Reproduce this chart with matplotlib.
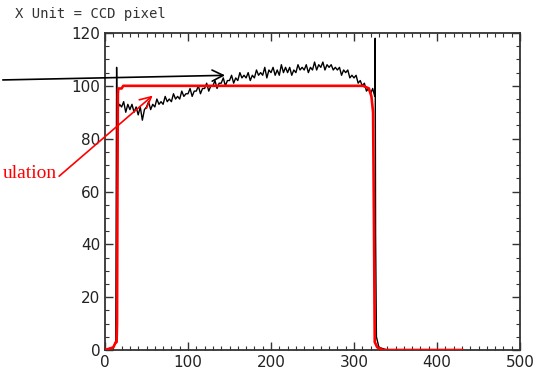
import matplotlib
matplotlib.use("Agg")
import matplotlib.pyplot as plt
import numpy as np
from matplotlib.ticker import MultipleLocator

# Measured (black) profile: leading edge, dense plateau samples, trailing edge
lead_x = [0, 10, 13, 14, 14.5, 15]
lead_y = [0, 1, 3, 107, 85, 91]
plateau_start, plateau_step = 17.5, 2.5
plateau_y = [93,
             92, 94, 90, 93,  91, 93, 90, 92,  89, 92, 87, 91,  92, 94, 91, 93,
             92, 95, 93, 94,  93, 96, 94, 95,  94, 97, 95, 96,  95, 98, 96, 97,
             97, 99, 96, 98,  98, 100, 97, 99,  99, 101, 98, 100,  100, 102, 99, 101,
             101, 103, 100, 102,  102, 104, 101, 103,  102, 105, 103, 104,  103, 105, 102, 104,
             103, 106, 104, 105,  104, 107, 103, 106,  105, 107, 104, 106,  104, 108, 105, 107,
             105, 107, 104, 106,  105, 108, 106, 107,  106, 108, 105, 107,  106, 109, 106, 108,
             107, 109, 106, 108,  107, 108, 106, 107,  106, 107, 104, 106,  105, 106, 103, 104,
             103, 104, 101, 102,  100, 101, 98, 99,  97, 99]
trail_x = [325, 325.5, 326, 327, 330, 340, 430]
trail_y = [96, 118, 44, 5, 1, 0, 0]

# Simulation (red) profile
sim_x = [0, 5, 10, 13, 14, 14.5, 15, 15.5, 16, 20, 22, 100, 200, 300, 311, 318, 321, 323, 324, 325, 328, 335, 430]
sim_y = [0, 0.5, 1, 3, 3, 10, 60, 97, 99, 99, 100, 100, 100, 100, 100, 99, 96, 90, 50, 3, 1, 0, 0]

plateau_x = plateau_start + plateau_step * np.arange(len(plateau_y))
meas_x = np.concatenate([lead_x, plateau_x, trail_x])
meas_y = np.concatenate([lead_y, plateau_y, trail_y])

W, H = 537, 376
fig = plt.figure(figsize=(W / 100, H / 100), dpi=100)
ax = fig.add_axes([105 / W, 1 - 350 / H, (520 - 105) / W, (350 - 33) / H])

ax.plot(meas_x, meas_y, color="black", lw=1.0, zorder=2)
ax.plot(sim_x, sim_y, color="#ff0000", lw=1.9, zorder=3)

ax.set_xlim(0, 500)
ax.set_ylim(0, 120)
ax.xaxis.set_major_locator(MultipleLocator(100))
ax.xaxis.set_minor_locator(MultipleLocator(10))
ax.yaxis.set_major_locator(MultipleLocator(20))
ax.yaxis.set_minor_locator(MultipleLocator(5))
ax.tick_params(which="both", direction="in", top=True, right=True, color="#333333")
ax.tick_params(which="major", length=6, width=1, labelsize=11, labelcolor="#222222")
ax.tick_params(which="minor", length=3, width=0.8)
for s in ax.spines.values():
    s.set_linewidth(1.3)
    s.set_color("#333333")

fig.text(15 / W, 1 - 14 / H, "X Unit = CCD pixel", fontsize=10, color="#333333",
         family="DejaVu Sans Mono", va="center", ha="left")

# Black arrow (from off-figure label)
ax.annotate("", xy=(148, 104), xycoords="data",
            xytext=(0.0, 1 - 80 / H), textcoords="figure fraction",
            arrowprops=dict(arrowstyle="->,head_length=0.8,head_width=0.4", color="black", lw=1.2),
            annotation_clip=False)

# Red arrow + label
fig.text(57 / W, 1 - 178 / H, "ulation", fontsize=14, color="#ff0000",
         family="Liberation Serif", ha="right", va="baseline")
ax.annotate("", xy=(60, 97), xycoords="data",
            xytext=(57 / W, 1 - 178 / H), textcoords="figure fraction",
            arrowprops=dict(arrowstyle="->,head_length=0.8,head_width=0.4", color="#ff0000", lw=1.2),
            annotation_clip=False)

fig.savefig("out.png", dpi=100)
